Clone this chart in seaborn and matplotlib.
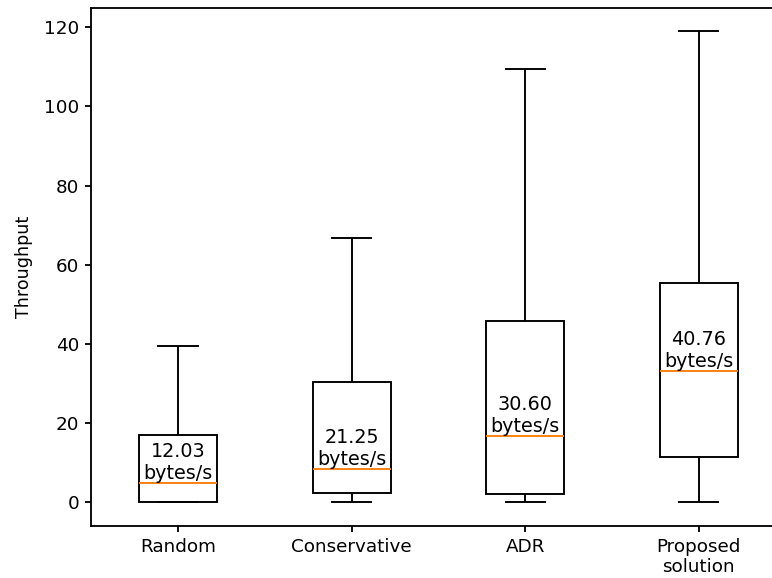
import pandas as pd
import seaborn as sns
import matplotlib.pyplot as plt

# five-number summaries: [low whisker, q1, median, q3, high whisker]
methods = ["Random", "Conservative", "ADR", "Proposed\nsolution"]
random_vals = [0.0, 0.0, 4.8, 17.1, 39.4]
conservative_vals = [0.0, 2.4, 8.4, 30.3, 66.7]
adr_vals = [0.0, 2.2, 16.8, 45.8, 109.4]
proposed_vals = [0.0, 11.4, 33.2, 55.5, 119.0]
mean_labels = ["12.03", "21.25", "30.60", "40.76"]

df = pd.DataFrame({
    "Method": [m for m in methods for _ in range(5)],
    "Throughput": random_vals + conservative_vals + adr_vals + proposed_vals,
})

fig = plt.figure(figsize=(772 / 120, 578 / 120), dpi=120)
ax = fig.add_axes([0.1181, 0.09, 0.8995, 0.897])

sns.boxplot(data=df, x="Method", y="Throughput", order=methods, ax=ax,
            width=0.45, whis=(0, 100), color="white", linecolor="black",
            linewidth=1.15, medianprops={"color": "#ff7f0e"}, showfliers=False)

# mean label sitting right on the median line
medians = df.groupby("Method", sort=False)["Throughput"].median()
for i, m in enumerate(methods):
    ax.text(i, medians[m], f"{mean_labels[i]}\nbytes/s", ha="center", va="bottom",
            multialignment="center", fontsize=11.5)

ax.set_xlim(-0.5, 3.5)
ax.set_ylim(-5.95, 124.95)
ax.set_yticks([0, 20, 40, 60, 80, 100, 120])
ax.tick_params(labelsize=11, width=1.1)
ax.set_xlabel("")
ax.set_ylabel("Throughput", fontsize=10.5, labelpad=7)
for s in ax.spines.values():
    s.set_linewidth(1.1)
# the original is cropped on the right, no right frame visible
ax.spines["right"].set_visible(False)

fig.savefig("out.png", dpi=120)
